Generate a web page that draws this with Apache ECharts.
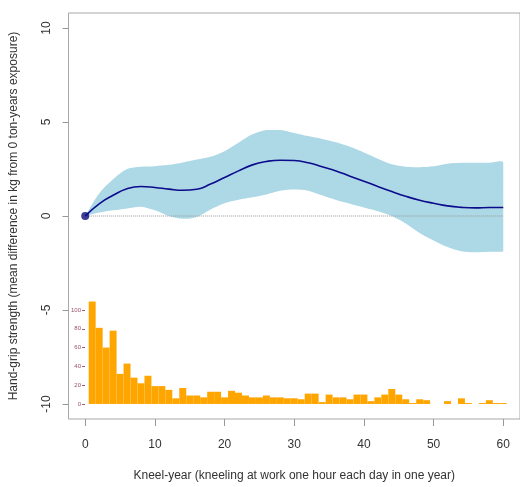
<!DOCTYPE html>
<html><head><meta charset="utf-8">
<script src="https://cdn.jsdelivr.net/npm/echarts@6/dist/echarts.min.js"></script>
<style>html,body{margin:0;padding:0;background:#fff}#c{width:520px;height:487px}</style>
</head><body><div id="c"></div>
<script>
// ---- data ----
const kneelYears = [0,2,4,6,8,10,12,14,16,18,20,22,24,26,28,30,32,34,36,38,40,42,44,46,48,50,52,54,56,58,60];
const meanDiff  = [0,0.65,1.1,1.45,1.57,1.52,1.43,1.37,1.42,1.7,2.05,2.4,2.72,2.9,2.97,2.95,2.83,2.62,2.4,2.12,1.85,1.57,1.3,1.05,0.84,0.68,0.54,0.46,0.43,0.45,0.45];
const ciUpper   = [0,1.2,1.95,2.5,2.62,2.65,2.72,2.85,3.0,3.15,3.45,3.9,4.35,4.58,4.58,4.42,4.25,4.1,3.92,3.68,3.38,3.05,2.75,2.62,2.6,2.65,2.78,2.83,2.83,2.83,2.83];
const ciLower   = [0,0.18,0.3,0.4,0.49,0.3,0.0,-0.15,-0.05,0.35,0.68,0.87,1.0,1.15,1.35,1.41,1.35,1.1,0.85,0.65,0.45,0.25,0.0,-0.4,-0.9,-1.3,-1.65,-1.88,-1.93,-1.9,-1.87];
const binCenters = [1,2,3,4,5,6,7,8,9,10,11,12,13,14,15,16,17,18,19,20,21,22,23,24,25,26,27,28,29,30,31,32,33,34,35,36,37,38,39,40,41,42,43,44,45,46,47,48,49,50,51,52,53,54,55,56,57,58,59,60];
const binCounts  = [109,81,60,78,32,43,28,22,30,19,19,15,6,17,9,9,7,13,13,7,14,12,9,7,7,9,7,7,6,6,5,11,11,2,10,7,7,5,10,10,3,7,10,16,10,5,1,5,4,0,0,3,0,6,1,0,1,4,1,1];
const xTicks = [0,10,20,30,40,50,60];
const yTicks = [-10,-5,0,5,10];
const countTicks = [0,20,40,60,80,100];
const refLineX = [0,60];

const BIN_WIDTH = 1;
const FONT = '"Liberation Sans", Arial, sans-serif';
const chart = echarts.init(document.getElementById('c'), null, {renderer:'canvas'});
chart.setOption({
  animation:false,
  backgroundColor:'#fff',
  grid:{left:68, top:13, width:454.5, height:407.5, show:true, borderColor:'#a8a8a8', borderWidth:1, backgroundColor:'transparent'},
  xAxis:{
    type:'value', min:-2.4, max:62.4,
    axisLine:{show:false, onZero:false},
    axisTick:{show:true, length:7, inside:false, lineStyle:{color:'#999'}, customValues:xTicks},
    axisLabel:{customValues:xTicks, margin:20, fontSize:12, color:'#333', fontFamily:FONT},
    splitLine:{show:false},
    name:'Kneel-year (kneeling at work one hour each day in one year)',
    nameLocation:'middle', nameGap:51,
    nameTextStyle:{fontSize:12, color:'#333', fontFamily:FONT}
  },
  yAxis:[{
    type:'value', min:-10.8, max:10.8,
    axisLine:{show:false, onZero:false},
    axisTick:{show:true, length:6, inside:false, lineStyle:{color:'#999'}, customValues:yTicks},
    axisLabel:{customValues:yTicks, rotate:90, margin:16, fontSize:12, color:'#333', fontFamily:FONT},
    splitLine:{show:false},
    name:'Hand-grip strength (mean difference in kg from 0 ton-years exposure)',
    nameLocation:'middle', nameGap:48.5, nameRotate:90,
    nameTextStyle:{fontSize:12, color:'#333', fontFamily:FONT}
  },{
    type:'value', position:'left', offset:-16.5, min:-16, max:416,
    axisLine:{show:false, onZero:false},
    axisTick:{show:true, length:3, inside:false, lineStyle:{color:'#9a6070'}, customValues:countTicks},
    axisLabel:{customValues:countTicks, margin:4, fontSize:6, color:'#9a5068', fontFamily:FONT},
    splitLine:{show:false}
  }],
  series:[
    {type:'custom', name:'band', data:kneelYears.map((x,i)=>[x,ciLower[i],ciUpper[i]]),
     encode:{x:0,y:2}, z:1, silent:true,
     renderItem:function(params, api){
       if (params.dataIndex !== 0) return {type:'group', children:[]};
       const up = kneelYears.map((x,i)=>api.coord([x, ciUpper[i]]));
       const lo = kneelYears.map((x,i)=>api.coord([x, ciLower[i]])).reverse();
       const pts = up.concat(lo);
       let x0=Infinity,y0=Infinity,x1=-Infinity,y1=-Infinity;
       pts.forEach(p=>{x0=Math.min(x0,p[0]);y0=Math.min(y0,p[1]);x1=Math.max(x1,p[0]);y1=Math.max(y1,p[1]);});
       return {type:'polygon', shape:{points:pts, smooth:0.3, smoothConstraint:[[x0,y0],[x1,y1]]},
               style:{fill:'#ADD8E6'}};
     }},
    {type:'line', name:'ref', data:refLineX.map(x=>[x,0]), symbol:'none',
     lineStyle:{type:'dotted', color:'#999', width:1}, z:3, silent:true},
    {type:'line', name:'mean', data:kneelYears.map((x,i)=>[x,meanDiff[i]]), smooth:true, symbol:'none',
     lineStyle:{color:'#0b0b8c', width:1.6}, z:4, silent:true},
    {type:'scatter', name:'origin', data:[[kneelYears[0], meanDiff[0]]], symbolSize:8,
     itemStyle:{color:'#0b0b7a'}, z:5, silent:true},
    {type:'custom', name:'hist', yAxisIndex:1, data:binCenters.map((c,i)=>[c,binCounts[i]]),
     encode:{x:0,y:1}, z:2, silent:true,
     renderItem:function(params, api){
       const c = api.value(0), n = api.value(1);
       const p0 = api.coord([c-BIN_WIDTH/2, 0]);
       const p1 = api.coord([c+BIN_WIDTH/2, n]);
       return {type:'rect', shape:{x:p0[0], y:p1[1], width:p1[0]-p0[0], height:p0[1]-p1[1]}, style:{fill:'#FFA500'}};
     }}
  ]
});
</script></body></html>
